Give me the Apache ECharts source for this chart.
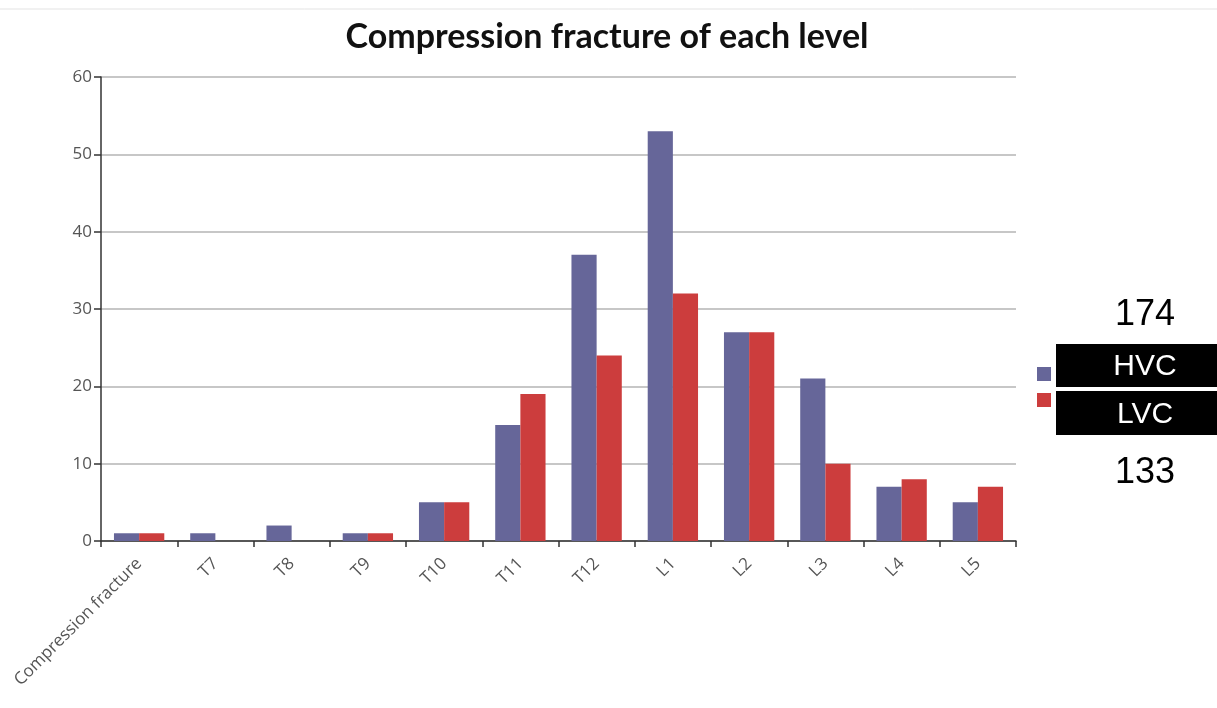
<!DOCTYPE html>
<html>
<head>
<meta charset="utf-8">
<script src="https://cdn.jsdelivr.net/npm/echarts@6/dist/echarts.min.js"></script>
<style>html,body{margin:0;padding:0;background:#fff;}#chart{width:1217px;height:708px;}</style>
</head>
<body>
<div id="chart"></div>
<script>
const categories = ['Compression fracture','T7','T8','T9','T10','T11','T12','L1','L2','L3','L4','L5'];
const seriesNames = ['HVC','LVC'];
const hvcValues = [1,1,2,1,5,15,37,53,27,21,7,5];
const lvcValues = [1,0,0,1,5,19,24,32,27,10,8,7];
const totals = ['174','133'];
const titleText = 'Compression fracture of each level';

const chart = echarts.init(document.getElementById('chart'));
chart.setOption({
  animation: false,
  backgroundColor: '#fff',
  title: {
    text: titleText,
    left: 602, top: 15, textAlign: 'center',
    textStyle: {fontFamily: 'Lato', fontWeight: 'bold', fontSize: 34, color: '#111'}
  },
  grid: {left: 101, right: 201, top: 77, bottom: 167, containLabel: false},
  legend: {
    orient: 'vertical', left: 1032, top: 362, itemWidth: 14, itemHeight: 14, itemGap: 12,
    icon: 'rect', formatter: () => '', selectedMode: false,
    data: seriesNames
  },
  xAxis: {
    type: 'category', data: categories,
    axisLine: {lineStyle: {color: '#333', width: 1.5}},
    axisTick: {show: true, length: 6, lineStyle: {color: '#333', width: 1.5}},
    axisLabel: {rotate: 45, margin: 20, fontFamily: 'Open Sans', fontSize: 17, color: '#555', interval: 0}
  },
  yAxis: {
    type: 'value', min: 0, max: 60, interval: 10,
    axisLine: {show: true, lineStyle: {color: '#333', width: 1.5}},
    axisTick: {show: true, length: 7, lineStyle: {color: '#333', width: 1.5}},
    axisLabel: {fontFamily: 'Open Sans', fontSize: 17, color: '#555', margin: 9},
    splitLine: {lineStyle: {color: '#b4b4b4', width: 1.5}}
  },
  series: [
    {name: seriesNames[0], type: 'bar', data: hvcValues, barGap: '0%', barCategoryGap: '34%', itemStyle: {color: '#666699'}},
    {name: seriesNames[1], type: 'bar', data: lvcValues, barGap: '0%', barCategoryGap: '34%', itemStyle: {color: '#cc3d3d'}}
  ],
  graphic: [
    {type: 'line', shape: {x1: 0, y1: 9, x2: 1217, y2: 9}, style: {stroke: '#e3e3e3', lineWidth: 1}},
    {type: 'text', x: 1145, y: 315, style: {text: totals[0], fontFamily: 'Liberation Sans', fontSize: 36, fill: '#000', align: 'center', verticalAlign: 'middle'}},
    {type: 'rect', shape: {x: 1056, y: 344, width: 161, height: 43}, style: {fill: '#000'}},
    {type: 'text', x: 1145, y: 367, style: {text: seriesNames[0], fontFamily: 'Liberation Sans', fontSize: 30, fill: '#fff', align: 'center', verticalAlign: 'middle'}},
    {type: 'rect', shape: {x: 1056, y: 391, width: 161, height: 44}, style: {fill: '#000'}},
    {type: 'text', x: 1145, y: 415, style: {text: seriesNames[1], fontFamily: 'Liberation Sans', fontSize: 30, fill: '#fff', align: 'center', verticalAlign: 'middle'}},
    {type: 'text', x: 1145, y: 473, style: {text: totals[1], fontFamily: 'Liberation Sans', fontSize: 36, fill: '#000', align: 'center', verticalAlign: 'middle'}}
  ]
});
</script>
</body>
</html>
